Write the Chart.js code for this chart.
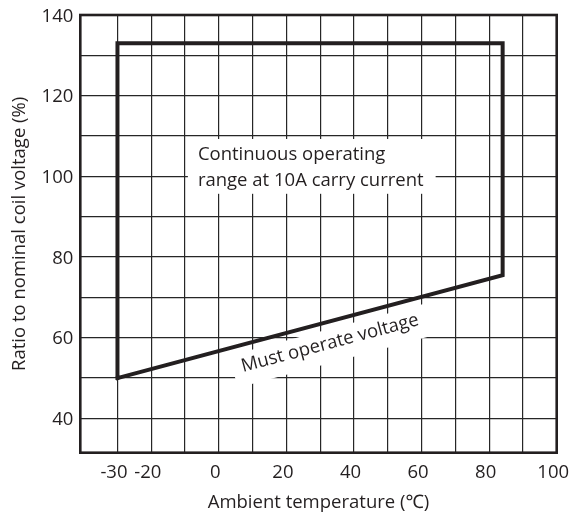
<!DOCTYPE html>
<html>
<head>
<meta charset="utf-8">
<script src="https://cdn.jsdelivr.net/npm/chart.js@4.4.1/dist/chart.umd.min.js"></script>
<style>
  html, body { margin: 0; padding: 0; background: #fff; }
  #chart { display: block; }
</style>
</head>
<body>
<canvas id="chart" width="571" height="518"></canvas>
<script>
// operating range outline (closed path)
const rangeTemp = [-30, -30, 84, 84, -30];
const rangeVolt = [50, 133, 133, 75.5, 50];

// grid + tick labels
const gridX = [-30, -20, -10, 0, 10, 20, 30, 40, 50, 60, 70, 80, 90];
const gridY = [40, 50, 60, 70, 80, 90, 100, 110, 120, 130, 140];
const xLabels = [-30, -20, 0, 20, 40, 60, 80, 100];
const yLabels = [40, 60, 80, 100, 120, 140];

const rangeText = ['Continuous operating', 'range at 10A carry current'];
const mustText = 'Must operate voltage';

const ink = '#231f20';
const fontName = '"Open Sans", "Noto Sans", sans-serif';
const fs = 18.5;

Chart.defaults.font.family = fontName;
Chart.defaults.color = ink;

function noPad(scale) {
  scale.paddingLeft = 0;
  scale.paddingRight = 0;
  scale.paddingTop = 0;
  scale.paddingBottom = 0;
}

function whiteBox(ctx, x, y, w, h) {
  ctx.fillStyle = '#fff';
  ctx.fillRect(x, y, w, h);
}

// labels sitting on the grid, under the outline
const notes = {
  id: 'notes',
  beforeDatasetsDraw(chart) {
    const ctx = chart.ctx;
    const xs = chart.scales.x, ys = chart.scales.y;
    ctx.save();
    ctx.font = fs + 'px ' + fontName;
    ctx.textBaseline = 'middle';

    // continuous operating range label
    const tx = xs.getPixelForValue(-6.2);
    const l1 = ys.getPixelForValue(105.3);
    const l2 = ys.getPixelForValue(98.9);
    const w = Math.max(...rangeText.map(t => ctx.measureText(t).width));
    whiteBox(ctx, tx - 10, l1 - 16, w + 22, (l2 - l1) + 29);
    ctx.fillStyle = ink;
    ctx.textAlign = 'left';
    ctx.fillText(rangeText[0], tx, l1);
    ctx.fillText(rangeText[1], tx, l2);

    // must operate voltage, rotated along the lower edge
    const ax = xs.getPixelForValue(rangeTemp[0]), ay = ys.getPixelForValue(rangeVolt[0]);
    const bx = xs.getPixelForValue(rangeTemp[3]), by = ys.getPixelForValue(rangeVolt[3]);
    const ang = Math.atan2(by - ay, bx - ax);
    const cx = xs.getPixelForValue(32.9), cy = ys.getPixelForValue(58.6);
    ctx.translate(cx, cy);
    ctx.rotate(ang);
    const mw = ctx.measureText(mustText).width;
    whiteBox(ctx, -mw / 2 - 9, -14, mw + 18, 33);
    ctx.fillStyle = ink;
    ctx.textAlign = 'center';
    ctx.fillText(mustText, 0, 0);
    ctx.restore();
  },
  afterDatasetsDraw(chart) {
    const {ctx, chartArea: a} = chart;
    ctx.save();
    ctx.strokeStyle = ink;
    ctx.lineWidth = 2.6;
    ctx.strokeRect(a.left, a.top, a.right - a.left, a.bottom - a.top);
    ctx.restore();
  }
};

new Chart(document.getElementById('chart'), {
  type: 'scatter',
  data: {
    datasets: [{
      data: rangeTemp.map((t, i) => ({x: t, y: rangeVolt[i]})),
      showLine: true,
      borderColor: ink,
      borderWidth: 4,
      borderJoinStyle: 'miter',
      borderCapStyle: 'square',
      pointRadius: 0,
      tension: 0
    }]
  },
  options: {
    responsive: false,
    animation: false,
    events: [],
    layout: { padding: { left: 0, top: 15, right: 14.3, bottom: 0 } },
    plugins: { legend: { display: false }, tooltip: { enabled: false } },
    scales: {
      x: {
        type: 'linear',
        min: -41,
        max: 100,
        afterBuildTicks: s => { s.ticks = gridX.concat([100]).map(v => ({value: v})); },
        afterFit: s => { s.height = 65.3; noPad(s); },
        border: { display: false },
        grid: {
          color: c => (c.tick && c.tick.value === 100) ? 'rgba(0,0,0,0)' : '#262626',
          lineWidth: 1.2,
          drawTicks: false
        },
        ticks: {
          padding: 9,
          labelOffset: -3.5,
          font: { size: fs },
          color: ink,
          maxRotation: 0,
          autoSkip: false,
          callback: v => xLabels.includes(v) ? String(v) : ''
        },
        title: {
          display: true,
          text: 'Ambient temperature (℃)',
          font: { size: fs },
          color: ink,
          padding: { top: 0, bottom: 4 }
        }
      },
      y: {
        type: 'linear',
        min: 31.5,
        max: 140,
        afterBuildTicks: s => { s.ticks = gridY.map(v => ({value: v})); },
        afterFit: s => { s.width = 80.3; noPad(s); },
        border: { display: false },
        grid: { color: '#262626', lineWidth: 1.2, drawTicks: false },
        ticks: {
          padding: 7,
          labelOffset: 1.5,
          font: { size: fs },
          color: ink,
          autoSkip: false,
          callback: v => yLabels.includes(v) ? String(v) : ''
        },
        title: {
          display: true,
          text: 'Ratio to nominal coil voltage (%)',
          font: { size: fs },
          color: ink,
          padding: { top: 9, bottom: 0 }
        }
      }
    }
  },
  plugins: [notes]
});
</script>
</body>
</html>
